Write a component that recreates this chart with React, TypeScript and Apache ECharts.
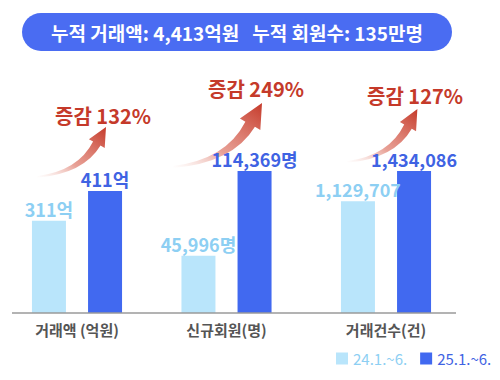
import React, { useEffect, useRef } from "react";
import * as echarts from "echarts";

const categories = ["거래액 (억원)", "신규회원(명)", "거래건수(건)"];
const periods = ["24.1.~6.", "25.1.~6."];
const values2024 = [311, 45996, 1129707];
const values2025 = [411, 114369, 1434086];
const units = ["억", "명", ""];
const bannerText = "누적 거래액: 4,413억원   누적 회원수: 135만명";

const FONT = "'Noto Sans CJK KR', 'Noto Sans', sans-serif";
const LIGHT = "#b9e5fb";
const LIGHT_TEXT = "#8dcff3";
const DARK = "#4169f0";
const DARK_TEXT = "#3f63e3";
const RED = "#c53a2a";

const ARROW_D =
  "M0,-0.8 Q41.2,-6.0 56.1,-35.4 L51.9,-37.8 L69,-50 L67.7,-29.0 L63.5,-31.4 Q46.4,-3.0 0,0.8 Z";
echarts.graphic.registerShape("growArrow", echarts.graphic.extendPath(ARROW_D, {}) as any);

export default function App() {
  const ref = useRef<HTMLDivElement>(null);
  useEffect(() => {
    if (!ref.current) return;
    const chart = echarts.init(ref.current, null, { renderer: "svg" });
    const axisMax = [718, 171500, 2151000];
    const gridBoxes = [
      { left: 12, width: 130 },
      { left: 150, width: 153 },
      { left: 316, width: 140 },
    ];
    const fmt = (v: number, u: string) => v.toLocaleString("en-US") + u;
    const series: any[] = [];
    categories.forEach((_, i) => {
      series.push({
        type: "bar",
        name: periods[0],
        xAxisIndex: i,
        yAxisIndex: i,
        data: [values2024[i]],
        barWidth: 34,
        barGap: "65%",
        itemStyle: { color: LIGHT },
        label: {
          show: true,
          position: "top",
          distance: 3,
          color: LIGHT_TEXT,
          fontWeight: "bold",
          fontSize: 18,
          fontFamily: FONT,
          formatter: () => fmt(values2024[i], units[i]),
        },
      });
      series.push({
        type: "bar",
        name: periods[1],
        xAxisIndex: i,
        yAxisIndex: i,
        data: [values2025[i]],
        barWidth: 34,
        barGap: "65%",
        itemStyle: { color: DARK },
        label: {
          show: true,
          position: "top",
          distance: 3,
          color: DARK_TEXT,
          fontWeight: "bold",
          fontSize: 18,
          fontFamily: FONT,
          formatter: () => fmt(values2025[i], units[i]),
        },
      });
    });
    const growth = values2025.map((v, i) => Math.round((v / values2024[i]) * 100));
    const growthPos = [
      [103, 115],
      [256, 88],
      [415, 95],
    ];
    const arrowPos = [
      { x: 37, y: 177, sx: 1, sy: 1 },
      { x: 173, y: 167, sx: 1.29, sy: 1.28 },
      { x: 347, y: 162, sx: 1.02, sy: 1.06 },
    ];
    const arrowFill = {
      type: "linear",
      x: 0,
      y: 1,
      x2: 1,
      y2: 0,
      colorStops: [
        { offset: 0, color: "rgba(240,190,180,0)" },
        { offset: 0.4, color: "rgba(222,120,105,0.7)" },
        { offset: 1, color: RED },
      ],
    };
    const graphic: any[] = [
      {
        type: "rect",
        shape: { x: 22, y: 13, width: 430, height: 38, r: 19 },
        style: { fill: "#4a6cf2" },
      },
      {
        type: "text",
        x: 237,
        y: 32,
        style: {
          text: bannerText,
          fill: "#ffffff",
          font: `bold 19px ${FONT}`,
          textAlign: "center",
          textVerticalAlign: "middle",
        },
      },
      {
        type: "line",
        shape: { x1: 12, y1: 313, x2: 456, y2: 313 },
        style: { stroke: "#9a9a9a", lineWidth: 1.5 },
        z: 5,
      },
    ];
    growth.forEach((g, i) => {
      const a = arrowPos[i];
      graphic.push({
        type: "growArrow",
        x: a.x,
        y: a.y,
        scaleX: a.sx,
        scaleY: a.sy,
        style: { fill: arrowFill },
      });
      graphic.push({
        type: "text",
        x: growthPos[i][0],
        y: growthPos[i][1],
        style: {
          text: `증감 ${g}%`,
          fill: RED,
          font: `bold 20px ${FONT}`,
          textAlign: "center",
          textVerticalAlign: "middle",
        },
      });
    });

    chart.setOption({
      animation: false,
      textStyle: { fontFamily: FONT },
      grid: gridBoxes.map((g) => ({ left: g.left, width: g.width, top: 100, bottom: 67 })),
      xAxis: categories.map((c, i) => ({
        type: "category",
        gridIndex: i,
        data: [c],
        axisLine: { show: false },
        axisTick: { show: false },
        axisLabel: {
          margin: 9,
          color: "#555555",
          fontWeight: "bold",
          fontSize: 15,
          fontFamily: FONT,
        },
      })),
      yAxis: categories.map((_, i) => ({
        type: "value",
        gridIndex: i,
        min: 0,
        max: axisMax[i],
        show: false,
        splitLine: { show: false },
      })),
      legend: {
        data: [
          { name: periods[0], textStyle: { color: LIGHT_TEXT } },
          { name: periods[1], textStyle: { color: DARK_TEXT } },
        ],
        icon: "rect",
        itemWidth: 12,
        itemHeight: 12,
        itemGap: 13,
        left: 336,
        top: 351,
        padding: 0,
        textStyle: { fontSize: 15, fontFamily: FONT },
      },
      series,
      graphic,
    });
    return () => chart.dispose();
  }, []);
  return (
    <div
      ref={ref}
      style={{ position: "fixed", left: 0, top: 0, width: 500, height: 380, background: "#fff" }}
    />
  );
}
